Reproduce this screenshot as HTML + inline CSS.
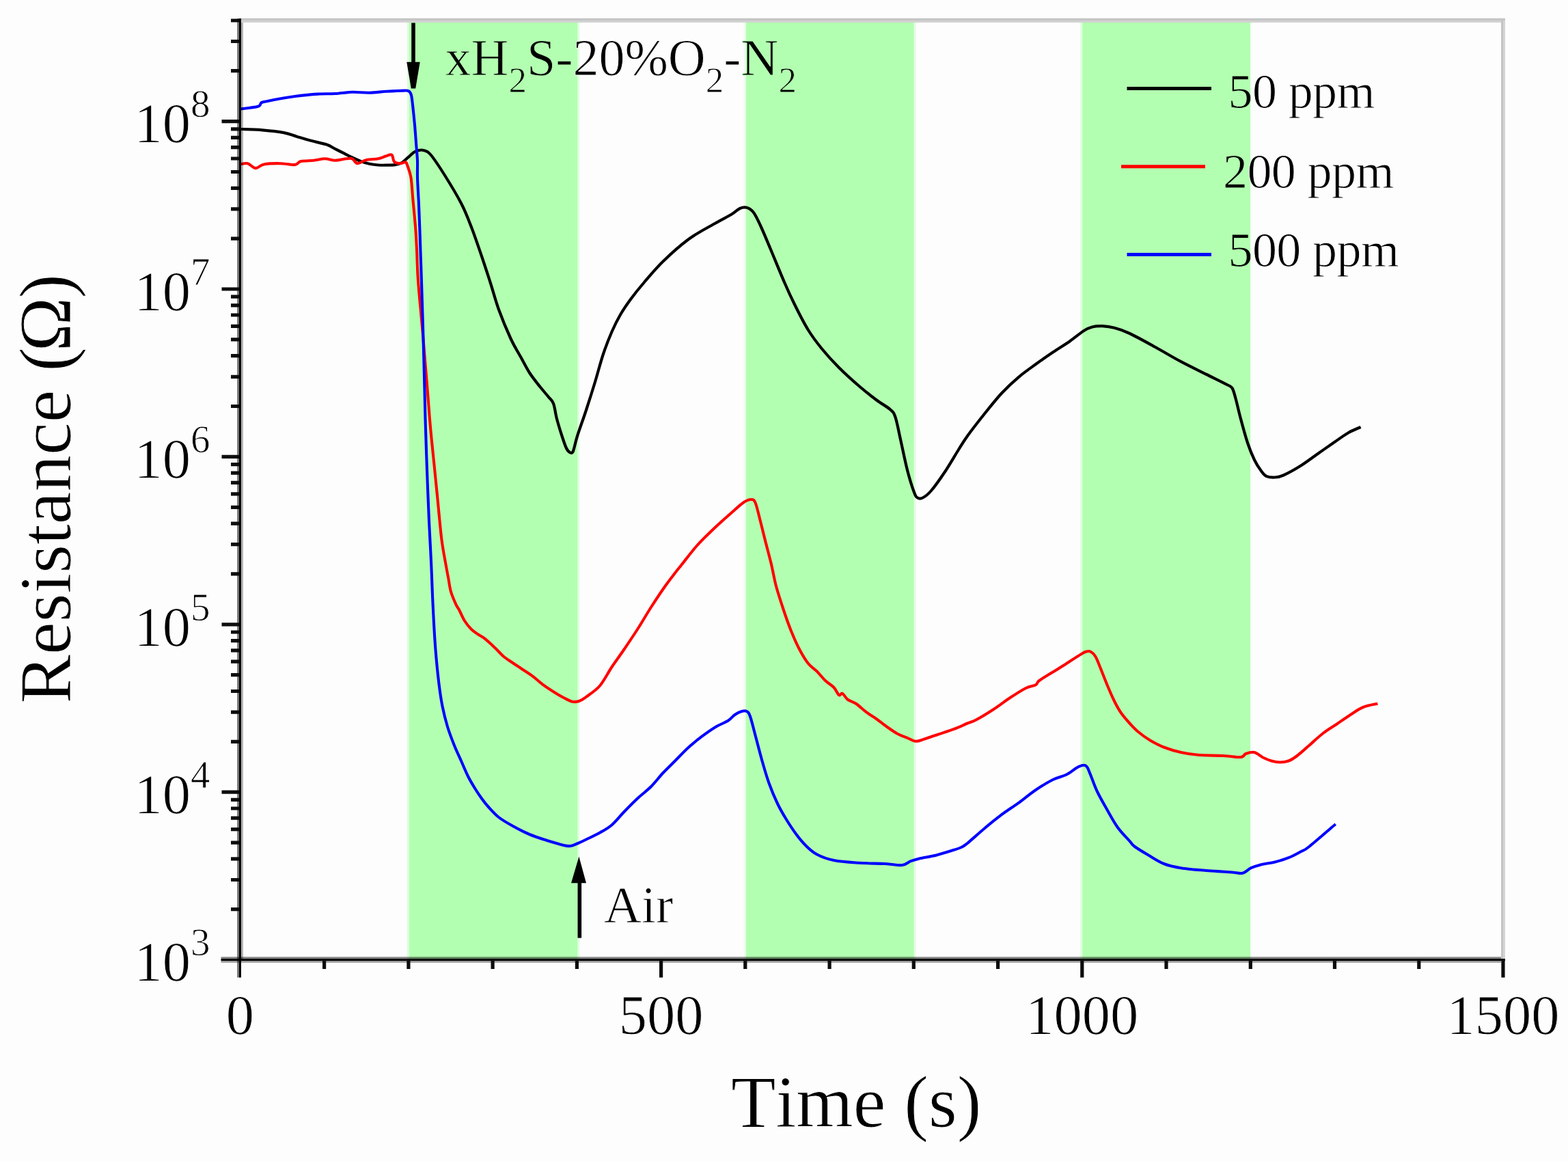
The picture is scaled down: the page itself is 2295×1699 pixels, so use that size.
<!DOCTYPE html>
<html lang="en"><head><meta charset="utf-8"><title>Resistance vs Time</title>
<style>
html,body{margin:0;padding:0;background:#fdfdfd;}
body{width:2295px;height:1699px;overflow:hidden;}
svg{display:block;}
text{font-family:"Liberation Serif","Times New Roman",serif;fill:#000;font-kerning:none;stroke:#fdfdfd;stroke-width:0.9px;stroke-linejoin:round;}
.tk{font-size:82.5px;}
.sp{font-size:57px;}
.an{font-size:76px;}
.sb{font-size:53px;}
.lg{font-size:72px;letter-spacing:-0.6px;}
.ax{font-size:107.3px;}
.g{stroke:#b3ffb1;}
.w{stroke:#fdfdfd;}
</style></head><body>
<svg width="2295" height="1699" viewBox="0 0 2295 1699">
<defs><filter id="soft" x="0" y="0" width="2295" height="1699" filterUnits="userSpaceOnUse" color-interpolation-filters="sRGB"><feGaussianBlur stdDeviation="0.7"/></filter></defs>
<rect x="0" y="0" width="2295" height="1699" fill="#fdfdfd"/>
<g filter="url(#soft)">
<rect x="0" y="0" width="2295" height="1699" fill="#fdfdfd"/>
<rect x="595.9" y="33" width="3.4" height="1371.6" fill="#b3ffb1" opacity="0.45"/>
<rect x="844.9" y="33" width="3.4" height="1371.6" fill="#b3ffb1" opacity="0.4"/>
<rect x="599.1" y="33" width="246.0" height="1371.6" fill="#b3ffb1"/>
<rect x="1088.5" y="33" width="3.4" height="1371.6" fill="#b3ffb1" opacity="0.17"/>
<rect x="1337.5" y="33" width="3.4" height="1371.6" fill="#b3ffb1" opacity="0.3"/>
<rect x="1091.7" y="33" width="246.0" height="1371.6" fill="#b3ffb1"/>
<rect x="1581.0" y="33" width="3.4" height="1371.6" fill="#b3ffb1" opacity="0.4"/>
<rect x="1829.9" y="33" width="3.4" height="1371.6" fill="#b3ffb1" opacity="0.08"/>
<rect x="1584.2" y="33" width="245.9" height="1371.6" fill="#b3ffb1"/>
<path d="M351.4,28.3 H2203" fill="none" stroke="#c4c4c4" stroke-width="3.2"/>
<path d="M351.4,31.4 H2203" fill="none" stroke="#cfcfcf" stroke-width="3.2" opacity="0.93"/>
<path d="M2198.6,30 V1404.6" fill="none" stroke="#c4c4c4" stroke-width="3"/>
<path d="M2201.5,30 V1404.6" fill="none" stroke="#d4d4d4" stroke-width="3"/>
<g fill="none" stroke-linejoin="round" stroke-linecap="butt">
<path d="M352.5,189.0 C357.7,189.2 373.4,189.5 383.9,190.3 C394.4,191.2 406.9,192.5 415.3,194.1 C423.7,195.7 427.8,197.8 434.1,199.7 C440.4,201.6 445.6,203.3 452.9,205.3 C460.2,207.3 471.7,209.5 478.0,211.6 C484.3,213.7 486.3,215.8 490.5,217.9 C494.7,220.0 498.9,222.1 503.1,224.2 C507.3,226.3 511.4,228.4 515.6,230.4 C519.8,232.4 524.0,234.5 528.2,236.1 C532.4,237.7 536.5,238.9 540.7,239.8 C544.9,240.7 549.1,241.2 553.3,241.5 C557.5,241.8 561.6,241.8 565.8,241.7 C570.0,241.6 574.6,241.7 578.4,241.1 C582.2,240.5 585.3,239.8 588.4,238.0 C591.5,236.2 594.3,232.9 597.2,230.4 C600.1,227.9 603.4,224.5 606.0,222.8 C608.6,221.1 610.7,220.5 613.0,220.0 C615.3,219.5 617.2,219.0 620.0,220.0 C622.8,221.0 625.0,220.2 630.0,226.0 C635.0,231.8 642.5,243.1 650.0,255.0 C657.5,266.9 668.3,284.6 675.0,297.5 C681.7,310.4 685.0,319.6 690.0,332.5 C695.0,345.4 700.4,361.6 705.0,375.0 C709.6,388.4 713.3,400.0 717.5,413.0 C721.7,426.0 725.0,439.2 730.0,453.0 C735.0,466.8 742.1,483.8 747.5,495.5 C752.9,507.2 757.9,514.7 762.5,523.0 C767.1,531.3 770.4,538.4 775.0,545.5 C779.6,552.6 785.4,559.7 790.0,565.5 C794.6,571.3 799.2,576.3 802.5,580.5 C805.8,584.7 807.9,585.1 810.0,590.5 C812.1,595.9 812.9,605.1 815.0,613.0 C817.1,620.9 820.2,630.9 822.5,638.0 C824.8,645.1 826.9,651.5 828.8,655.5 C830.6,659.5 832.1,660.9 833.8,661.8 C835.4,662.6 836.9,664.5 838.8,660.5 C840.6,656.5 841.8,648.1 845.0,638.0 C848.2,627.9 853.8,612.9 858.0,600.0 C862.2,587.1 866.3,574.2 870.5,560.5 C874.7,546.8 878.8,530.5 883.0,518.0 C887.2,505.5 891.3,495.1 895.5,485.5 C899.7,475.9 903.4,468.4 908.0,460.5 C912.6,452.6 917.2,445.9 923.0,438.0 C928.8,430.1 935.1,422.2 943.0,413.0 C950.9,403.8 959.7,393.0 970.5,382.5 C981.3,372.0 995.5,359.2 1008.0,350.0 C1020.5,340.8 1035.1,333.5 1045.5,327.5 C1055.9,321.5 1064.2,317.5 1070.5,313.8 C1076.8,310.0 1079.2,306.7 1083.0,305.0 C1086.8,303.3 1089.7,302.8 1093.0,303.8 C1096.3,304.8 1099.7,306.6 1103.0,311.0 C1106.3,315.4 1108.8,321.0 1113.0,330.0 C1117.2,339.0 1122.2,351.2 1128.0,365.0 C1133.8,378.8 1142.2,399.6 1148.0,413.0 C1153.8,426.4 1157.2,433.8 1163.0,445.5 C1168.8,457.2 1176.3,472.2 1183.0,483.0 C1189.7,493.8 1195.5,501.3 1203.0,510.5 C1210.5,519.7 1218.8,528.8 1228.0,538.0 C1237.2,547.2 1248.8,557.6 1258.0,565.5 C1267.2,573.4 1275.5,579.9 1283.0,585.5 C1290.5,591.1 1298.4,595.1 1303.0,599.2 C1307.6,603.4 1308.0,603.2 1310.5,610.5 C1313.0,617.8 1315.1,630.1 1318.0,643.0 C1320.9,655.9 1324.7,675.1 1328.0,688.0 C1331.3,700.9 1335.5,713.8 1338.0,720.5 C1340.5,727.2 1340.9,727.2 1343.0,728.5 C1345.1,729.8 1347.2,730.2 1350.5,728.5 C1353.8,726.8 1357.6,724.3 1363.0,718.0 C1368.4,711.7 1376.3,700.5 1383.0,690.5 C1389.7,680.5 1397.5,666.8 1403.0,658.0 C1408.5,649.2 1409.7,646.8 1416.0,638.0 C1422.3,629.2 1432.7,615.9 1441.0,605.5 C1449.3,595.1 1457.7,584.5 1466.0,575.5 C1474.3,566.5 1482.7,558.8 1491.0,551.8 C1499.3,544.7 1507.7,539.0 1516.0,533.0 C1524.3,527.0 1532.7,521.1 1541.0,515.5 C1549.3,509.9 1558.5,504.5 1566.0,499.2 C1573.5,494.0 1580.6,487.7 1586.0,484.2 C1591.4,480.8 1593.9,479.7 1598.5,478.5 C1603.1,477.3 1608.1,477.0 1613.5,477.2 C1618.9,477.5 1624.3,478.0 1631.0,479.8 C1637.7,481.5 1643.5,483.3 1653.5,488.0 C1663.5,492.7 1678.5,501.1 1691.0,508.0 C1703.5,514.9 1716.0,522.6 1728.5,529.2 C1741.0,535.9 1754.8,542.4 1766.0,548.0 C1777.2,553.6 1789.8,559.7 1796.0,563.0 C1802.2,566.3 1801.4,564.7 1803.5,568.0 C1805.6,571.3 1806.4,575.5 1808.5,583.0 C1810.6,590.5 1813.1,602.2 1816.0,613.0 C1818.9,623.8 1822.7,638.0 1826.0,648.0 C1829.3,658.0 1832.7,666.1 1836.0,673.0 C1839.3,679.9 1843.1,685.3 1846.0,689.2 C1848.9,693.2 1850.2,695.2 1853.5,696.8 C1856.8,698.3 1861.8,698.7 1866.0,698.5 C1870.2,698.3 1872.2,698.3 1878.5,695.5 C1884.8,692.7 1895.2,687.0 1903.5,681.8 C1911.8,676.5 1920.2,670.1 1928.5,664.2 C1936.8,658.4 1945.9,652.0 1953.5,646.8 C1961.1,641.5 1967.7,636.6 1974.0,633.0 C1980.3,629.4 1988.7,626.3 1991.6,625.0" stroke="#000000" stroke-width="4.2"/>
<path d="M351.3,240.5 C353.2,240.3 358.8,238.3 362.6,239.2 C366.4,240.1 369.9,245.9 373.9,246.1 C377.9,246.3 380.3,241.7 386.4,240.5 C392.5,239.3 402.8,239.1 410.3,239.2 C417.8,239.3 426.6,241.6 431.6,241.1 C436.6,240.6 435.8,237.1 440.4,236.1 C445.0,235.1 453.3,235.4 459.2,234.8 C465.1,234.2 470.3,232.3 475.5,232.3 C480.7,232.3 485.3,234.8 490.5,234.8 C495.7,234.8 502.7,232.7 506.9,232.3 C511.1,231.9 512.9,231.2 515.6,232.3 C518.3,233.5 519.9,238.9 523.2,239.2 C526.6,239.5 530.7,235.3 535.7,234.2 C540.7,233.0 548.5,233.2 553.3,232.3 C558.1,231.4 561.2,229.5 564.6,228.6 C568.0,227.7 571.3,225.3 573.4,226.7 C575.5,228.0 575.0,234.6 577.1,236.7 C579.2,238.8 583.2,239.1 585.9,239.2 C588.6,239.3 591.6,236.7 593.4,237.3 C595.2,237.9 595.2,239.2 596.6,243.0 C598.0,246.8 600.2,252.2 601.5,260.0 C602.8,267.8 603.1,277.7 604.2,290.0 C605.3,302.3 607.2,320.7 608.2,334.0 C609.2,347.3 609.6,357.2 610.2,370.0 C610.8,382.8 610.6,391.3 612.0,411.0 C613.4,430.7 616.6,462.7 618.8,488.0 C620.9,513.3 623.1,540.1 625.0,563.0 C626.9,585.9 628.3,606.8 630.0,625.5 C631.7,644.2 633.3,658.8 635.0,675.5 C636.7,692.2 638.1,706.8 640.0,725.5 C641.9,744.2 644.2,771.2 646.2,788.0 C648.3,804.8 650.8,816.3 652.5,826.0 C654.2,835.7 655.0,839.3 656.2,846.0 C657.5,852.7 658.1,859.5 660.0,866.0 C661.9,872.5 665.4,880.2 667.5,884.8 C669.6,889.3 670.4,889.5 672.5,893.5 C674.6,897.5 677.1,903.9 680.0,908.5 C682.9,913.1 686.7,917.7 690.0,921.0 C693.3,924.3 696.7,926.2 700.0,928.5 C703.3,930.8 705.8,931.4 710.0,934.8 C714.2,938.1 720.4,944.1 725.0,948.5 C729.6,952.9 733.3,957.5 737.5,961.0 C741.7,964.5 745.4,966.6 750.0,969.8 C754.6,972.9 760.0,976.4 765.0,979.8 C770.0,983.1 775.0,986.0 780.0,989.8 C785.0,993.5 790.0,998.5 795.0,1002.2 C800.0,1006.0 805.0,1009.1 810.0,1012.2 C815.0,1015.4 820.4,1018.6 825.0,1021.0 C829.6,1023.4 833.8,1025.9 837.5,1026.8 C841.2,1027.6 844.1,1027.2 847.5,1026.0 C850.9,1024.8 852.9,1023.5 858.0,1019.8 C863.1,1016.0 871.8,1010.8 878.0,1003.5 C884.2,996.2 889.7,984.8 895.5,976.0 C901.3,967.2 906.8,960.2 913.0,951.0 C919.2,941.8 926.3,931.4 933.0,921.0 C939.7,910.6 946.3,898.9 953.0,888.5 C959.7,878.1 967.2,866.8 973.0,858.5 C978.8,850.2 983.8,843.9 988.0,838.5 C992.2,833.1 992.6,832.8 998.0,826.0 C1003.4,819.2 1012.6,806.8 1020.5,798.0 C1028.4,789.2 1037.2,780.9 1045.5,773.0 C1053.8,765.1 1063.4,756.8 1070.5,750.5 C1077.6,744.2 1083.2,738.8 1088.0,735.5 C1092.8,732.2 1096.1,731.0 1099.0,731.0 C1101.9,731.0 1103.2,730.2 1105.5,735.5 C1107.8,740.8 1110.5,753.4 1113.0,763.0 C1115.5,772.6 1117.8,782.5 1120.5,793.0 C1123.2,803.5 1126.5,815.5 1129.0,826.0 C1131.5,836.5 1132.8,845.6 1135.5,856.0 C1138.2,866.4 1141.8,877.2 1145.5,888.5 C1149.2,899.8 1153.8,913.1 1158.0,923.5 C1162.2,933.9 1166.3,943.1 1170.5,951.0 C1174.7,958.9 1178.8,965.8 1183.0,971.0 C1187.2,976.2 1191.3,978.1 1195.5,982.2 C1199.7,986.4 1203.8,992.0 1208.0,996.0 C1212.2,1000.0 1217.2,1002.5 1220.5,1006.0 C1223.8,1009.5 1225.9,1015.8 1228.0,1017.2 C1230.1,1018.7 1230.9,1013.7 1233.0,1014.8 C1235.1,1015.8 1237.2,1021.0 1240.5,1023.5 C1243.8,1026.0 1248.4,1026.6 1253.0,1029.8 C1257.6,1032.9 1263.0,1038.5 1268.0,1042.2 C1273.0,1046.0 1278.0,1048.7 1283.0,1052.2 C1288.0,1055.8 1293.0,1060.0 1298.0,1063.5 C1303.0,1067.0 1308.0,1070.8 1313.0,1073.5 C1318.0,1076.2 1323.4,1077.9 1328.0,1079.8 C1332.6,1081.6 1336.3,1084.5 1340.5,1084.8 C1344.7,1085.0 1347.6,1083.2 1353.0,1081.5 C1358.4,1079.8 1365.9,1077.1 1373.0,1074.8 C1380.1,1072.4 1388.3,1070.0 1395.5,1067.2 C1402.7,1064.5 1410.5,1060.8 1416.0,1058.5 C1421.5,1056.2 1422.2,1056.8 1428.5,1053.5 C1434.8,1050.2 1445.2,1043.9 1453.5,1038.5 C1461.8,1033.1 1470.6,1026.2 1478.5,1021.0 C1486.4,1015.8 1494.8,1010.4 1501.0,1007.2 C1507.2,1004.1 1512.7,1004.1 1516.0,1002.2 C1519.3,1000.4 1516.8,999.1 1521.0,996.0 C1525.2,992.9 1534.3,987.7 1541.0,983.5 C1547.7,979.3 1554.8,975.0 1561.0,971.0 C1567.2,967.0 1573.9,962.6 1578.5,959.8 C1583.1,956.9 1585.6,955.0 1588.5,954.0 C1591.4,953.0 1593.5,952.3 1596.0,953.5 C1598.5,954.7 1601.0,956.8 1603.5,961.0 C1606.0,965.2 1608.1,971.4 1611.0,978.5 C1613.9,985.6 1617.7,995.6 1621.0,1003.5 C1624.3,1011.4 1627.7,1019.3 1631.0,1026.0 C1634.3,1032.7 1637.2,1038.1 1641.0,1043.5 C1644.8,1048.9 1649.3,1053.9 1653.5,1058.5 C1657.7,1063.1 1661.0,1066.8 1666.0,1071.0 C1671.0,1075.2 1677.2,1079.8 1683.5,1083.5 C1689.8,1087.2 1696.0,1090.6 1703.5,1093.5 C1711.0,1096.4 1720.2,1099.1 1728.5,1101.0 C1736.8,1102.9 1743.1,1103.9 1753.5,1104.8 C1763.9,1105.6 1780.6,1105.5 1791.0,1106.0 C1801.4,1106.5 1810.6,1108.5 1816.0,1108.0 C1821.4,1107.5 1820.2,1104.2 1823.5,1103.0 C1826.8,1101.8 1831.8,1100.1 1836.0,1101.0 C1840.2,1101.9 1844.3,1106.4 1848.5,1108.5 C1852.7,1110.6 1856.8,1112.3 1861.0,1113.5 C1865.2,1114.7 1869.3,1115.5 1873.5,1115.5 C1877.7,1115.5 1881.8,1115.1 1886.0,1113.5 C1890.2,1111.9 1893.5,1109.8 1898.5,1106.0 C1903.5,1102.2 1909.8,1096.4 1916.0,1091.0 C1922.2,1085.6 1929.3,1078.7 1936.0,1073.5 C1942.7,1068.3 1949.5,1064.4 1956.0,1060.0 C1962.5,1055.6 1968.2,1051.4 1974.7,1047.2 C1981.2,1043.0 1988.0,1037.9 1995.0,1035.0 C2002.0,1032.1 2012.8,1030.6 2016.4,1029.7" stroke="#ff0000" stroke-width="4.1"/>
<path d="M351.3,159.6 C355.7,159.0 372.4,157.4 377.6,155.8 C382.8,154.2 380.0,151.5 382.7,150.1 C385.4,148.7 387.5,148.8 394.0,147.6 C400.5,146.3 413.8,143.9 421.5,142.6 C429.2,141.3 433.1,140.7 440.4,139.9 C447.7,139.1 457.1,138.1 465.5,137.6 C473.9,137.1 482.1,137.5 490.5,137.0 C498.9,136.5 507.2,135.0 515.6,134.8 C524.0,134.6 532.3,135.9 540.7,135.7 C549.1,135.5 557.4,134.3 565.8,133.8 C574.2,133.3 585.5,132.7 590.9,132.6 C596.3,132.5 596.5,132.2 598.4,133.4 C600.3,134.7 601.2,135.6 602.2,140.1 C603.2,144.6 603.9,152.7 604.7,160.2 C605.5,167.7 606.5,176.9 607.2,185.3 C607.9,193.7 608.5,202.0 609.1,210.4 C609.7,218.8 610.7,227.2 611.0,235.5 C611.3,243.8 610.7,249.2 611.0,260.0 C611.3,270.8 612.5,287.7 613.0,300.0 C613.5,312.3 613.6,315.2 614.3,334.0 C615.0,352.8 616.0,383.2 617.0,413.0 C618.0,442.8 619.1,479.7 620.0,513.0 C620.9,546.3 621.7,583.8 622.5,613.0 C623.3,642.2 624.1,663.0 625.0,688.0 C625.9,713.0 627.0,740.0 628.0,763.0 C629.0,786.0 630.3,805.1 631.2,826.0 C632.2,846.9 632.7,867.7 633.8,888.5 C634.8,909.3 636.0,932.2 637.5,951.0 C639.0,969.8 640.8,987.2 642.5,1001.0 C644.2,1014.8 645.4,1023.1 647.5,1033.5 C649.6,1043.9 652.1,1053.9 655.0,1063.5 C657.9,1073.1 661.7,1082.7 665.0,1091.0 C668.3,1099.3 671.7,1106.0 675.0,1113.5 C678.3,1121.0 681.7,1129.3 685.0,1136.0 C688.3,1142.7 691.7,1148.1 695.0,1153.5 C698.3,1158.9 701.7,1163.9 705.0,1168.5 C708.3,1173.1 710.8,1176.4 715.0,1181.0 C719.2,1185.6 724.2,1191.4 730.0,1196.0 C735.8,1200.6 742.5,1204.3 750.0,1208.5 C757.5,1212.7 766.7,1217.5 775.0,1221.0 C783.3,1224.5 791.7,1227.1 800.0,1229.8 C808.3,1232.4 819.2,1235.6 825.0,1237.0 C830.8,1238.4 831.7,1238.4 835.0,1238.0 C838.3,1237.6 841.2,1236.1 845.0,1234.5 C848.8,1232.9 852.5,1231.2 858.0,1228.5 C863.5,1225.8 871.8,1222.0 878.0,1218.5 C884.2,1215.0 889.7,1212.2 895.5,1207.2 C901.3,1202.2 906.8,1195.0 913.0,1188.5 C919.2,1182.0 926.3,1174.8 933.0,1168.5 C939.7,1162.2 946.8,1157.2 953.0,1151.0 C959.2,1144.8 964.7,1137.2 970.5,1131.0 C976.3,1124.8 981.8,1119.8 988.0,1113.5 C994.2,1107.2 1001.3,1099.5 1008.0,1093.5 C1014.7,1087.5 1021.3,1082.2 1028.0,1077.2 C1034.7,1072.2 1041.8,1067.2 1048.0,1063.5 C1054.2,1059.8 1060.9,1057.7 1065.5,1054.8 C1070.1,1051.8 1072.2,1048.3 1075.5,1046.0 C1078.8,1043.7 1082.6,1041.8 1085.5,1041.0 C1088.4,1040.2 1090.9,1039.8 1093.0,1041.0 C1095.1,1042.2 1095.9,1042.7 1098.0,1048.5 C1100.1,1054.3 1102.6,1065.2 1105.5,1076.0 C1108.4,1086.8 1112.2,1101.8 1115.5,1113.5 C1118.8,1125.2 1121.8,1135.6 1125.5,1146.0 C1129.2,1156.4 1133.8,1167.2 1138.0,1176.0 C1142.2,1184.8 1145.9,1191.0 1150.5,1198.5 C1155.1,1206.0 1160.6,1214.4 1165.5,1221.0 C1170.4,1227.6 1175.0,1233.1 1180.0,1238.0 C1185.0,1242.9 1188.8,1246.8 1195.5,1250.2 C1202.2,1253.8 1210.1,1256.9 1220.5,1259.0 C1230.9,1261.1 1245.5,1261.9 1258.0,1262.8 C1270.5,1263.6 1285.1,1263.5 1295.5,1264.0 C1305.9,1264.5 1314.2,1266.6 1320.5,1266.0 C1326.8,1265.4 1328.8,1261.8 1333.0,1260.2 C1337.2,1258.7 1339.2,1258.0 1345.5,1256.5 C1351.8,1255.0 1362.2,1253.6 1370.5,1251.5 C1378.8,1249.4 1389.2,1246.0 1395.5,1244.0 C1401.8,1242.0 1404.6,1241.2 1408.0,1239.5 C1411.4,1237.8 1410.5,1238.5 1416.0,1234.0 C1421.5,1229.5 1432.7,1219.2 1441.0,1212.2 C1449.3,1205.3 1457.7,1198.5 1466.0,1192.2 C1474.3,1186.0 1482.7,1180.8 1491.0,1174.8 C1499.3,1168.7 1507.7,1161.6 1516.0,1156.0 C1524.3,1150.4 1533.5,1144.8 1541.0,1141.0 C1548.5,1137.2 1555.2,1136.4 1561.0,1133.5 C1566.8,1130.6 1571.8,1125.8 1576.0,1123.5 C1580.2,1121.2 1583.5,1120.0 1586.0,1119.8 C1588.5,1119.5 1589.3,1120.0 1591.0,1122.2 C1592.7,1124.5 1593.5,1127.5 1596.0,1133.5 C1598.5,1139.5 1601.8,1149.8 1606.0,1158.5 C1610.2,1167.2 1616.0,1177.2 1621.0,1186.0 C1626.0,1194.8 1630.6,1203.5 1636.0,1211.0 C1641.4,1218.5 1649.3,1226.3 1653.5,1231.0 C1657.7,1235.7 1656.4,1235.6 1661.0,1239.0 C1665.6,1242.4 1673.9,1247.3 1681.0,1251.5 C1688.1,1255.7 1695.6,1260.9 1703.5,1264.0 C1711.4,1267.1 1718.1,1268.6 1728.5,1270.2 C1738.9,1271.9 1753.5,1273.0 1766.0,1274.0 C1778.5,1275.0 1794.8,1275.9 1803.5,1276.5 C1812.2,1277.1 1813.9,1278.8 1818.5,1277.8 C1823.1,1276.7 1826.4,1272.3 1831.0,1270.2 C1835.6,1268.2 1840.2,1266.7 1846.0,1265.2 C1851.8,1263.8 1859.3,1263.2 1866.0,1261.5 C1872.7,1259.8 1879.8,1257.8 1886.0,1255.2 C1892.2,1252.8 1898.5,1249.2 1903.5,1246.5 C1908.5,1243.8 1907.5,1245.8 1916.0,1239.0 C1924.5,1232.2 1948.3,1211.5 1954.8,1206.0" stroke="#0000ff" stroke-width="4.1"/>
</g>
<g fill="none" stroke-linecap="butt">
<path d="M348.5,27 V1430.4" stroke="#000" stroke-opacity="0.5" stroke-width="3"/>
<path d="M354.4,33 V1404.6" stroke="#000" stroke-opacity="0.3" stroke-width="3"/>
<path d="M323.5,1401.7 H2197" stroke="#000" stroke-opacity="0.47" stroke-width="2.8"/>
<path d="M323.5,1407.6 H2197" stroke="#000" stroke-opacity="0.33" stroke-width="2.8"/>
<path d="M351.4,27 V1430.4" stroke="#000" stroke-width="3"/>
<path d="M323.5,1404.6 H2203" stroke="#000" stroke-width="3.2"/>
</g>
<g stroke="#0d0d0d" fill="none" stroke-linecap="butt">
<path d="M338,1330.7 H350 M338,1287.5 H350 M338,1256.9 H350 M338,1233.1 H350 M338,1213.6 H350 M338,1197.2 H350 M338,1183.0 H350 M338,1170.4 H350 M324.5,1159.2 H350 M338,1085.3 H350 M338,1042.1 H350 M338,1011.5 H350 M338,987.7 H350 M338,968.2 H350 M338,951.8 H350 M338,937.6 H350 M338,925.0 H350 M324.5,913.8 H350 M338,839.9 H350 M338,796.7 H350 M338,766.1 H350 M338,742.3 H350 M338,722.8 H350 M338,706.4 H350 M338,692.2 H350 M338,679.6 H350 M324.5,668.4 H350 M338,594.5 H350 M338,551.3 H350 M338,520.7 H350 M338,496.9 H350 M338,477.4 H350 M338,461.0 H350 M338,446.8 H350 M338,434.2 H350 M324.5,423.0 H350 M338,349.1 H350 M338,305.9 H350 M338,275.3 H350 M338,251.5 H350 M338,232.0 H350 M338,215.6 H350 M338,201.4 H350 M338,188.8 H350 M324.5,177.6 H350 M338,103.7 H350 M338,60.5 H350 M338,30.0 H350 " stroke-width="5.2"/>
<path d="M474.6,1404.6 V1418.1 M597.9,1404.6 V1418.1 M721.1,1404.6 V1418.1 M844.4,1404.6 V1418.1 M967.6,1404.6 V1430.4 M1090.8,1404.6 V1418.1 M1214.1,1404.6 V1418.1 M1337.3,1404.6 V1418.1 M1460.6,1404.6 V1418.1 M1583.8,1404.6 V1430.4 M1707.0,1404.6 V1418.1 M1830.3,1404.6 V1418.1 M1953.5,1404.6 V1418.1 M2076.8,1404.6 V1418.1 M2200.0,1404.6 V1430.4 " stroke-width="5.2"/>
</g>
<text class="tk" x="196.5" y="1435.4">10<tspan class="sp" dy="-37">3</tspan></text>
<text class="tk" x="196.5" y="1190.0">10<tspan class="sp" dy="-37">4</tspan></text>
<text class="tk" x="196.5" y="944.6">10<tspan class="sp" dy="-37">5</tspan></text>
<text class="tk" x="196.5" y="699.2">10<tspan class="sp" dy="-37">6</tspan></text>
<text class="tk" x="196.5" y="453.8">10<tspan class="sp" dy="-37">7</tspan></text>
<text class="tk" x="196.5" y="208.4">10<tspan class="sp" dy="-37">8</tspan></text>
<text class="tk" x="351.4" y="1513" text-anchor="middle">0</text>
<text class="tk" x="967.6" y="1513" text-anchor="middle">500</text>
<text class="tk" x="1583.8" y="1513" text-anchor="middle">1000</text>
<text class="tk" x="2200.0" y="1513" text-anchor="middle">1500</text>
<text class="ax" x="1070" y="1648.5">Time (s)</text>
<text class="ax" transform="translate(103.2,1029.5) rotate(-90)">Resistance (<tspan dx="-6.3">Ω</tspan><tspan dx="-2.2">)</tspan></text>
<text class="an g" x="651.5" y="110">xH<tspan class="sb" dy="24.5">2</tspan><tspan dy="-24.5">S-</tspan><tspan class="w">20%O</tspan><tspan class="sb w" dy="24.5">2</tspan><tspan class="w" dy="-24.5">-</tspan>N<tspan class="sb" dy="24.5">2</tspan></text>
<text class="an" x="884" y="1350">Air</text>
<g stroke="#000" stroke-width="5.6" fill="#000">
<path d="M605,33.5 V95" fill="none"/>
<path d="M595.3,90.8 H614.7 L608.2,129.5 H601.8 Z" stroke="none"/>
<path d="M848.3,1372.6 V1290" fill="none"/>
<path d="M847.4,1253.5 L858,1292.3 H836 Z" stroke="none"/>
</g>
<g fill="none" stroke-width="5">
<path d="M1649.5,129.5 H1773" stroke="#000"/>
<path d="M1641,243.8 H1764" stroke="#ff0000"/>
<path d="M1649.5,372.5 H1773" stroke="#0000ff"/>
</g>
<text class="lg" x="1797.5" y="158"><tspan class="g">5</tspan>0 ppm</text>
<text class="lg" x="1790" y="274.5"><tspan class="g">2</tspan>00 ppm</text>
<text class="lg" x="1797.5" y="389.5"><tspan class="g">5</tspan>00 ppm</text>
</g></svg></body></html>
